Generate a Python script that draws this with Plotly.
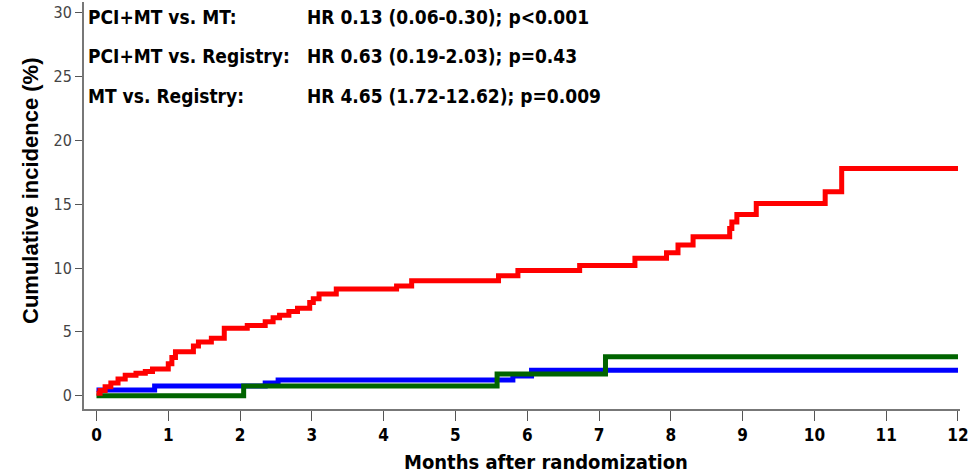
import plotly.graph_objects as go

# ---- data ----
red_x = [0, 0.05, 0.12, 0.2, 0.3, 0.4, 0.55, 0.68, 0.78, 1.0, 1.05, 1.1, 1.35, 1.42, 1.6, 1.78,
         2.1, 2.35, 2.46, 2.55, 2.68, 2.8, 2.97, 3.02, 3.1, 3.34, 4.18, 4.39, 5.6, 5.87, 6.73,
         7.5, 7.94, 8.1, 8.31, 8.82, 8.85, 8.92, 9.19, 10.15, 10.38, 12]
red_y = [0.2, 0.4, 0.7, 1.0, 1.3, 1.6, 1.75, 1.9, 2.1, 2.5, 3.0, 3.45, 3.9, 4.2, 4.5, 5.28,
         5.5, 5.8, 6.1, 6.3, 6.6, 6.85, 7.3, 7.6, 7.96, 8.36, 8.6, 9.0, 9.4, 9.8, 10.2,
         10.76, 11.2, 11.8, 12.45, 13.1, 13.6, 14.2, 15.05, 15.97, 17.8, 17.8]

blue_x = [0, 0.81, 2.35, 2.53, 5.8, 6.06, 12]
blue_y = [0.45, 0.76, 1.0, 1.23, 1.55, 2.0, 2.0]

green_x = [0, 2.05, 5.58, 7.09, 12]
green_y = [0.0, 0.76, 1.7, 3.05, 3.05]

x_ticks = list(range(0, 13))
y_ticks = [0, 5, 10, 15, 20, 25, 30]

stats_left = ["PCI+MT vs. MT:", "PCI+MT vs. Registry:", "MT vs. Registry:"]
stats_right = ["HR 0.13 (0.06-0.30); p<0.001", "HR 0.63 (0.19-2.03); p=0.43",
               "HR 4.65 (1.72-12.62); p=0.009"]

NARROW = "DejaVu Sans Condensed, Liberation Sans Narrow, sans-serif"

fig = go.Figure()
fig.add_trace(go.Scatter(x=blue_x, y=blue_y, mode="lines", line=dict(color="#0000FF", width=5, shape="hv"),
                         showlegend=False, hoverinfo="skip"))
fig.add_trace(go.Scatter(x=green_x, y=green_y, mode="lines", line=dict(color="#006400", width=5, shape="hv"),
                         showlegend=False, hoverinfo="skip"))
fig.add_trace(go.Scatter(x=red_x, y=red_y, mode="lines", line=dict(color="#FF0000", width=5, shape="hv"),
                         showlegend=False, hoverinfo="skip"))

# plot area: left 84, right 960, top 2, bottom 409 (px)
W, H = 970, 475
ml, mr, mt, mb = 84, 10, 2, 66

fig.update_layout(
    width=W, height=H,
    margin=dict(l=ml, r=mr, t=mt, b=mb),
    paper_bgcolor="white", plot_bgcolor="white",
    xaxis=dict(range=[-0.174, 12.028], tickmode="array", tickvals=x_ticks,
               ticktext=[str(v) for v in x_ticks],
               showline=True, linecolor="#777777", linewidth=2, mirror=False,
               ticks="outside", ticklen=10, tickcolor="#555555", tickwidth=1,
               showgrid=False, zeroline=False,
               tickfont=dict(family=NARROW, size=17, color="black", weight="bold")),
    yaxis=dict(range=[-1.04, 30.83], tickmode="array", tickvals=y_ticks,
               ticktext=[str(v) for v in y_ticks],
               showline=True, linecolor="#777777", linewidth=2, mirror=False,
               ticks="outside", ticklen=7, tickcolor="#555555", tickwidth=1,
               showgrid=False, zeroline=False,
               tickfont=dict(family=NARROW, size=16, color="#444444")),
)

ann = []
for i, (a, b) in enumerate(zip(stats_left, stats_right)):
    ypx = [17, 56, 96][i]
    yp = 1 - (ypx - mt) / (H - mt - mb)
    ann.append(dict(x=(86 - ml) / (W - ml - mr), y=yp, xref="paper", yref="paper",
                    text=a, showarrow=False, xanchor="left", yanchor="middle",
                    font=dict(family=NARROW, size=19, color="black", weight="bold")))
    ann.append(dict(x=(305 - ml) / (W - ml - mr), y=yp, xref="paper", yref="paper",
                    text=b, showarrow=False, xanchor="left", yanchor="middle",
                    font=dict(family=NARROW, size=19, color="black", weight="bold")))

ann.append(dict(x=(30 - ml) / (W - ml - mr), y=1 - (191 - mt) / (H - mt - mb), xref="paper", yref="paper",
                text="Cumulative incidence (%)", showarrow=False, textangle=-90,
                xanchor="center", yanchor="middle",
                font=dict(family="Liberation Sans, Arial, sans-serif", size=22, color="black", weight="bold")))
ann.append(dict(x=(546 - ml) / (W - ml - mr), y=1 - (462 - mt) / (H - mt - mb), xref="paper", yref="paper",
                text="Months after randomization", showarrow=False,
                xanchor="center", yanchor="middle",
                font=dict(family=NARROW, size=20, color="black", weight="bold")))
fig.update_layout(annotations=ann)

fig.write_html("out.html", config={"displayModeBar": False},
               post_script="document.body.style.margin='0';document.body.style.padding='0';")
